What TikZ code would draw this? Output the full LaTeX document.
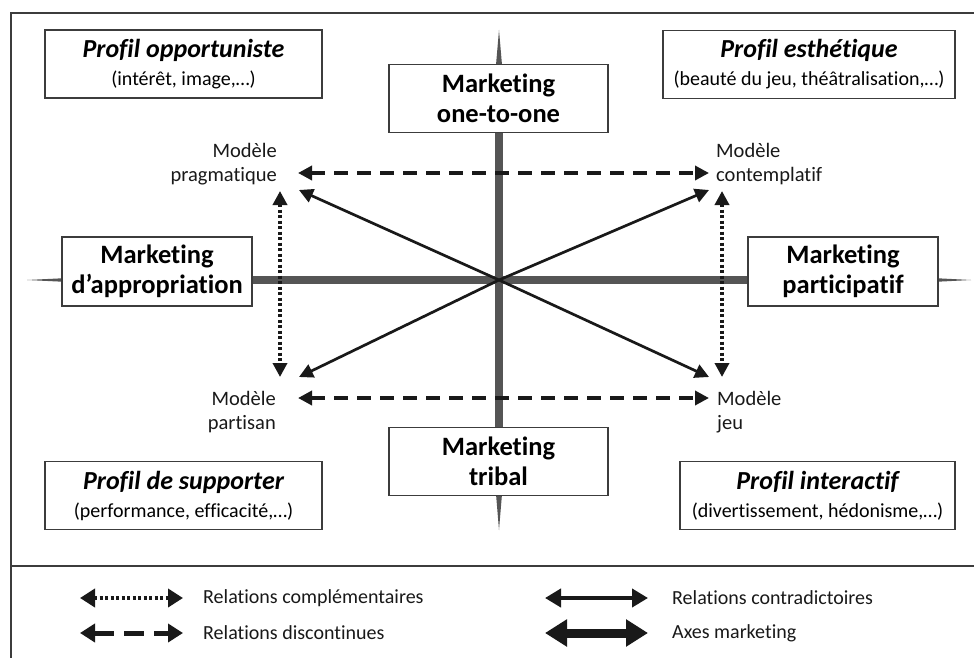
\documentclass[tikz,border=0pt]{standalone}
\usepackage{fontspec}
\setmainfont{Carlito}[Ligatures={NoCommon}]
\usetikzlibrary{arrows.meta}

\definecolor{axisgray}{RGB}{85,85,85}
\definecolor{boxgray}{RGB}{60,60,60}
\definecolor{inkblack}{RGB}{25,25,25}

\tikzset{
  box/.style={draw=boxgray, line width=1.4pt, fill=white, align=center, inner sep=0pt},
  mkbox/.style={box, minimum width=219pt, minimum height=68pt,
    font=\fontsize{26.5}{30}\selectfont\bfseries},
  sidebox/.style={box, minimum width=190pt, minimum height=69pt,
    font=\fontsize{26.5}{30}\selectfont\bfseries},
  profbox/.style={box, minimum height=68pt, font=\fontsize{20}{28}\selectfont},
  modele/.style={inner sep=0pt, font=\fontsize{20.5}{24.5}\selectfont, text=inkblack},
  tip/.style={-{Triangle[length=14pt,width=14pt]}},
  diag/.style={draw=inkblack, line width=2.7pt, tip},
  discont/.style={draw=inkblack, line width=3.6pt, dash pattern=on 14pt off 9pt,
    {Triangle[length=14pt,width=14pt]}-{Triangle[length=14pt,width=14pt]}},
  compl/.style={draw=inkblack, line width=3.6pt, dash pattern=on 3pt off 2.5pt,
    {Triangle[length=14pt,width=14pt]}-{Triangle[length=14pt,width=14pt]}},
  legtext/.style={anchor=west, inner sep=0pt, font=\fontsize{20}{22}\selectfont, text=inkblack}
}

\begin{document}
\begin{tikzpicture}[x=1pt, y=-1pt]
  \clip (0,0) rectangle (974,658);
  \fill[white] (0,0) rectangle (974,658);

  % frame and legend separator
  \draw[boxgray, line width=1.4pt] (11,13) rectangle (990,680);
  \draw[boxgray, line width=1.4pt] (11,566) -- (990,566);

  % marketing axes
  \coordinate (ctr) at (499,280);
  \fill[axisgray] (62,276) rectangle (938,284);
  \fill[axisgray] (495,65) rectangle (503,494);
  \fill[axisgray] (27,280) -- (62,278.3) -- (62,281.7) -- cycle;
  \fill[axisgray] (971,280) -- (938,278.3) -- (938,281.7) -- cycle;
  \fill[axisgray] (499,30) -- (496,65) -- (502,65) -- cycle;
  \fill[axisgray] (499,530) -- (496,494) -- (502,494) -- cycle;

  % models
  \node[modele, anchor=east, align=right] (pragm) at (277,164) {Modèle\\pragmatique};
  \node[modele, anchor=west, align=left] (contem) at (716,164) {Modèle\\contemplatif};
  \node[modele, anchor=east, align=right] (partis) at (276,412) {Modèle\\partisan};
  \node[modele, anchor=west, align=left] (jeu) at (717,412) {Modèle\\jeu};

  \coordinate (tNW) at (299,190);
  \coordinate (tNE) at (709,190);
  \coordinate (tSW) at (299,377);
  \coordinate (tSE) at (709,377);
  \draw[diag] (ctr) -- (tNW);
  \draw[diag] (ctr) -- (tNE);
  \draw[diag] (ctr) -- (tSW);
  \draw[diag] (ctr) -- (tSE);

  \coordinate (dNW) at (298,173);
  \coordinate (dNE) at (709,173);
  \coordinate (dSW) at (298,398);
  \coordinate (dSE) at (709,398);
  \draw[discont] (dNW) -- (dNE);
  \draw[discont] (dSW) -- (dSE);

  \coordinate (cNW) at (280,191);
  \coordinate (cSW) at (280,377);
  \coordinate (cNE) at (722,191);
  \coordinate (cSE) at (722,377);
  \draw[compl] (cNW) -- (cSW);
  \draw[compl] (cNE) -- (cSE);

  % marketing boxes
  \node[mkbox] (one) at (498.5,98.5) {Marketing\\one-to-one};
  \node[mkbox] (tribal) at (498.5,461.5) {Marketing\\tribal};
  \node[sidebox] (appro) at (157,271.5) {Marketing\\d’appropriation};
  \node[sidebox] (partic) at (843,271.5) {Marketing\\participatif};

  % profiles
  \node[profbox, minimum width=277pt] (opport) at (183.5,64)
    {{\fontsize{26}{28}\selectfont\bfseries\itshape Profil opportuniste}\\(intérêt, image,…)};
  \node[profbox, minimum width=292pt] (esthet) at (809,64.5)
    {{\fontsize{26}{28}\selectfont\bfseries\itshape Profil esthétique}\\(beauté du jeu, théâtralisation,…)};
  \node[profbox, minimum width=277pt] (suppor) at (183.5,495.5)
    {{\fontsize{26}{28}\selectfont\bfseries\itshape Profil de supporter}\\(performance, efficacité,…)};
  \node[profbox, minimum width=275pt] (intera) at (817.5,495.5)
    {{\fontsize{26}{28}\selectfont\bfseries\itshape Profil interactif}\\(divertissement, hédonisme,…)};

  % legend
  \coordinate (l1a) at (80,598);  \coordinate (l1b) at (183,598);
  \coordinate (l2a) at (80,633);  \coordinate (l2b) at (183,633);
  \coordinate (l3a) at (545,598); \coordinate (l3b) at (648,598);
  \coordinate (l4a) at (545,633); \coordinate (l4b) at (648,633);
  \draw[inkblack, line width=4pt, dash pattern=on 3pt off 2.5pt,
    {Triangle[length=15pt,width=18pt]}-{Triangle[length=15pt,width=18pt]}] (l1a) -- (l1b);
  \draw[inkblack, line width=5pt, dash pattern=on 20pt off 10pt,
    {Triangle[length=15pt,width=18pt]}-{Triangle[length=15pt,width=18pt]}] (l2a) -- (l2b);
  \draw[inkblack, line width=4pt,
    {Triangle[length=16pt,width=18pt]}-{Triangle[length=16pt,width=18pt]}] (l3a) -- (l3b);
  \draw[inkblack, line width=9pt,
    {Triangle[length=22pt,width=26pt]}-{Triangle[length=22pt,width=26pt]}] (l4a) -- (l4b);
  \node[legtext] (lcompl) at (203,598) {Relations complémentaires};
  \node[legtext] (ldisc) at (203,633) {Relations discontinues};
  \node[legtext] (lcontr) at (672,598) {Relations contradictoires};
  \node[legtext] (laxes) at (672,633) {Axes marketing};
\end{tikzpicture}
\end{document}
